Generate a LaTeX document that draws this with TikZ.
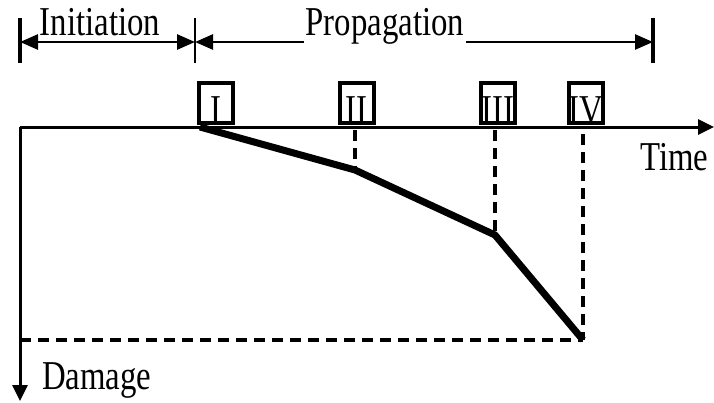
\documentclass[tikz,border=0pt]{standalone}
\usepackage{fontspec}
\setmainfont{Liberation Serif}
\usetikzlibrary{arrows.meta}
\tikzset{
  lbl/.style={inner sep=0pt, font=\fontsize{41}{41}\selectfont, xscale=0.8},
  stagebox/.style={draw, line width=4.5pt, minimum width=34pt, minimum height=40pt, inner sep=0pt},
  axis/.style={line width=3pt},
  tip/.style={-{Triangle[length=16pt,width=15pt]}},
  dim/.style={line width=2.6pt, {Triangle[length=18pt,width=15pt]}-{Triangle[length=18pt,width=15pt]}},
  tick/.style={line width=3.6pt},
  guide/.style={line width=4.5pt, dash pattern=on 11pt off 7pt},
  path/.style={line width=7pt, line join=round},
}
\begin{document}
\begin{tikzpicture}[x=1pt,y=-1pt]
\useasboundingbox (0,0) rectangle (714,402);
% axes
\coordinate (O) at (20,127);
\coordinate (tend) at (714,127);
\coordinate (dend) at (20,401);
\draw[axis,tip] (O) -- (tend);
\draw[axis,tip] (O) -- (dend);
% phase ticks and dimension arrows
\coordinate (t0a) at (20,18);  \coordinate (t0b) at (20,63);
\coordinate (t1a) at (195,18); \coordinate (t1b) at (195,63);
\coordinate (t2a) at (653,18); \coordinate (t2b) at (653,63);
\draw[tick] (t0a) -- (t0b);
\draw[line width=1.6pt] (t1a) -- (t1b);
\draw[tick] (t2a) -- (t2b);
\coordinate (d0) at (20,42); \coordinate (d1) at (195,42); \coordinate (d2) at (653,42);
\draw[dim] (d0) -- (d1);
\draw[dim] (d1) -- (d2);
\node[lbl, fill=white, inner xsep=2pt, anchor=base] (init) at (100,35) {Initiation};
\node[lbl, fill=white, inner xsep=2pt, anchor=base] (prop) at (385,35) {Propagation};
% stage boxes
\node[stagebox, anchor=south west] (b1) at (196.5,125) {};
\node[stagebox, anchor=south west] (b2) at (337.5,125) {};
\node[stagebox, anchor=south west] (b3) at (478.5,125) {};
\node[stagebox, anchor=south west] (b4) at (566.5,125) {};
\node[lbl, anchor=base] (n1) at ([yshift=2pt]b1.south) {I};
\node[lbl, anchor=base] (n2) at ([yshift=2pt]b2.south) {II};
\node[lbl, anchor=base] (n3) at ([yshift=2pt]b3.south) {III};
\node[lbl, anchor=base] (n4) at ([yshift=2pt]b4.south) {IV};
% damage evolution
\coordinate (p0) at (200,127);
\coordinate (p1) at (355,170);
\coordinate (p2) at (495,235);
\coordinate (p3) at (583,340);
\coordinate (q1) at (355,130);
\coordinate (q2) at (495,130);
\coordinate (q3) at (583,134);
\coordinate (r0) at (20,340);
\draw[guide] (q1) -- (p1);
\draw[guide] (q2) -- (p2);
\draw[guide] (q3) -- (p3);
\draw[guide] (r0) -- (p3);
\draw[path] (p0) -- (p1) -- (p2) -- (p3);
% axis titles
\node[lbl, anchor=base west] (time) at (640,170) {Time};
\node[lbl, anchor=base west] (dmg) at (42,389) {Damage};
\end{tikzpicture}
\end{document}
